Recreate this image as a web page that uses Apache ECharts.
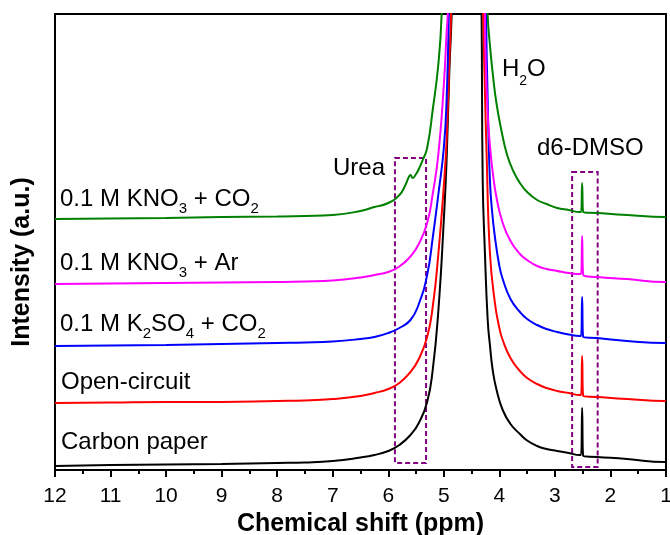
<!DOCTYPE html>
<html>
<head>
<meta charset="utf-8">
<script src="https://cdn.jsdelivr.net/npm/echarts@6/dist/echarts.min.js"></script>
<style>
html,body{margin:0;padding:0;background:#fff;}
#chart{width:670px;height:535px;}
</style>
</head>
<body>
<div id="chart"></div>
<script>
// ---- data (ppm, intensity in arbitrary units) ----
const xTickLabels = [12, 11, 10, 9, 8, 7, 6, 5, 4, 3, 2, 1];

const blackPpm = [12, 11, 10, 9, 8, 7.5, 7, 6.5, 6.25, 6.0, 5.8, 5.6, 5.45, 5.3, 5.2, 5.1, 5.0, 4.95, 4.9, 4.86, 4.84,
                  4.34, 4.32, 4.3, 4.26, 4.21, 4.17, 4.12, 4.05, 3.94, 3.8, 3.63, 3.5, 3.32, 3.15, 2.96, 2.75, 2.55, 2.53, 2.51, 2.49, 2.24, 1.70, 1.02, 1.0];
const blackVal = [4, 5, 5.5, 6, 7, 7.5, 9, 12.5, 15, 19, 25, 35, 47, 68, 100, 158, 250, 310, 400, 455, 520,
                  520, 455, 290, 217, 150, 125, 100, 80, 60, 46, 36, 29.5, 24, 21, 19, 17, 15, 15, 62, 14, 13, 11, 8, 8];

const redPpm = [12, 11, 10, 9, 8, 7.5, 7, 6.5, 6.25, 6.0, 5.8, 5.6, 5.45, 5.3, 5.2, 5.1, 5.0, 4.95, 4.9, 4.87, 4.85,
                4.30, 4.29, 4.26, 4.23, 4.17, 4.08, 4.0, 3.94, 3.8, 3.63, 3.5, 3.32, 3.15, 2.96, 2.75, 2.55, 2.53, 2.51, 2.49, 2.24, 1.70, 1.02, 1.0];
const redVal = [67, 67.5, 68, 68, 69, 69.5, 71, 74, 77, 81, 87, 98, 111, 133, 163, 215, 284, 330, 410, 455, 520,
                520, 455, 380, 317, 217, 167, 142, 130, 112, 99, 92, 86, 82, 79, 77, 75, 75, 114, 74, 73, 71, 69, 69];

const bluePpm = [12, 11, 10, 9, 8, 7.5, 7, 6.5, 6.25, 6.0, 5.8, 5.6, 5.45, 5.3, 5.2, 5.1, 5.0, 4.95, 4.91, 4.89,
                 4.25, 4.24, 4.21, 4.17, 4.13, 4.08, 4.0, 3.94, 3.8, 3.63, 3.5, 3.32, 3.15, 2.96, 2.75, 2.55, 2.53, 2.51, 2.49, 2.24, 1.70, 1.02, 1.0];
const blueVal = [124, 124.5, 125, 126, 127, 127.5, 128.5, 131, 133, 137, 142, 150, 166, 195, 232, 275, 322, 370, 455, 520,
                 520, 455, 370, 290, 258, 233, 204, 191, 171, 158, 151, 145, 141, 138, 135.5, 134, 134, 173, 133, 132, 129, 127, 127];

const magentaPpm = [12, 11, 10, 9, 8, 7.5, 7, 6.5, 6.25, 6.0, 5.8, 5.6, 5.45, 5.3, 5.2, 5.1, 5.0, 4.95, 4.93, 4.91,
                    4.27, 4.26, 4.25, 4.21, 4.17, 4.12, 4.05, 3.94, 3.8, 3.63, 3.5, 3.32, 3.15, 2.96, 2.75, 2.55, 2.53, 2.51, 2.49, 2.24, 1.70, 1.02, 1.0];
const magentaVal = [186, 186.5, 187, 187.5, 188, 188.5, 189.5, 192.5, 195, 198, 203.5, 213.5, 226, 247, 276, 315, 385, 437, 455, 520,
                    520, 455, 417, 356, 325, 298, 272, 247, 229, 216, 210, 204, 201, 199, 197, 196, 196, 234, 195, 193, 191, 188, 188];

const greenPpm = [12, 11, 10, 9, 8, 7.5, 7, 6.5, 6.25, 6.0, 5.8, 5.7, 5.63, 5.6, 5.56, 5.5, 5.45, 5.38, 5.3, 5.2, 5.1, 5.04, 5.02,
                  4.23, 4.21, 4.17, 4.12, 4.05, 3.95, 3.86, 3.75, 3.63, 3.5, 3.32, 3.15, 2.96, 2.75, 2.55, 2.53, 2.51, 2.49, 2.24, 1.70, 1.02, 1.0];
const greenVal = [251, 251.5, 252, 253, 253.5, 254, 255, 259, 263, 267, 275, 284, 293, 295, 292, 296, 301, 310, 322, 360, 405, 455, 520,
                  520, 455, 425, 397, 366, 336, 315, 299, 287, 278, 270, 266, 262, 260, 258, 258, 287, 258, 257, 255, 253, 253];

// dashed annotation boxes [ppmLeft, ppmRight, top, bottom]
const ureaBox = [5.88, 5.32, 312, 7];
const dmsoBox = [2.69, 2.23, 298, 3];

const seriesNames = ['Carbon paper', 'Open-circuit', 'K2SO4 + CO2', 'KNO3 + Ar', 'KNO3 + CO2'];
const seriesColors = ['#000000', '#ff0000', '#0000ff', '#ff00ff', '#008000'];

function pairs(xs, ys) { return xs.map((x, i) => [x, ys[i]]); }

const chart = echarts.init(document.getElementById('chart'), null, {renderer: 'canvas'});
const FONT = '"Liberation Sans", Arial, Helvetica, sans-serif';
const PURPLE = '#800080';

const dataSets = [
  pairs(blackPpm, blackVal),
  pairs(redPpm, redVal),
  pairs(bluePpm, blueVal),
  pairs(magentaPpm, magentaVal),
  pairs(greenPpm, greenVal)
];

const series = dataSets.map((d, i) => ({
  name: seriesNames[i],
  type: 'line',
  data: d,
  showSymbol: false,
  smooth: 0.5,
  clip: true,
  lineStyle: {color: seriesColors[i], width: 2},
  itemStyle: {color: seriesColors[i]},
  z: 3 + i,
  animation: false
}));

series.push({
  type: 'line',
  data: [],
  markArea: {
    silent: true,
    itemStyle: {color: 'rgba(0,0,0,0)', borderColor: PURPLE, borderWidth: 2, borderType: [5, 3]},
    data: [
      [{coord: [ureaBox[0], ureaBox[2]]}, {coord: [ureaBox[1], ureaBox[3]]}],
      [{coord: [dmsoBox[0], dmsoBox[2]]}, {coord: [dmsoBox[1], dmsoBox[3]]}]
    ]
  },
  z: 10,
  animation: false
});

const mainRich = {
  n: {fontSize: 24, fontFamily: FONT, color: '#000', lineHeight: 40},
  s: {fontSize: 15, fontFamily: FONT, color: '#000', lineHeight: 40, padding: [19, 0, 0, 0]}
};
const purpleRich = {
  n: {fontSize: 24, fontFamily: FONT, color: PURPLE, lineHeight: 40},
  s: {fontSize: 14, fontFamily: FONT, color: PURPLE, lineHeight: 40, padding: [23, 0, 0, 0]}
};

// y = cap-centre of the label line
function label(x, y, text, rich) {
  return {
    type: 'text', left: x, top: y - 15, z: 20,
    style: {text: text, rich: rich, fontFamily: FONT}
  };
}

const option = {
  backgroundColor: '#fff',
  animation: false,
  grid: {left: 55, right: 4, top: 14, bottom: 65, show: true, borderColor: '#000', borderWidth: 2,
    backgroundColor: 'transparent', containLabel: false, outerBoundsMode: 'none'},
  xAxis: {
    type: 'value', min: 1, max: 12, interval: 1, inverse: true,
    name: 'Chemical shift (ppm)', nameLocation: 'middle', nameGap: 38,
    nameTextStyle: {fontSize: 25, fontWeight: 'bold', fontFamily: FONT, color: '#000'},
    axisLine: {show: true, onZero: false, lineStyle: {color: '#000', width: 2}},
    axisTick: {show: true, inside: false, length: 7, lineStyle: {color: '#000', width: 2}},
    minorTick: {show: true, splitNumber: 2, length: 4, lineStyle: {color: '#000', width: 2}},
    axisLabel: {fontSize: 21, fontFamily: FONT, color: '#000', margin: 16,
      formatter: v => xTickLabels.includes(v) ? String(v) : ''},
    splitLine: {show: false}
  },
  yAxis: {
    type: 'value', min: 0, max: 456,
    name: 'Intensity (a.u.)', nameLocation: 'middle', nameGap: 20,
    nameTextStyle: {fontSize: 25, fontWeight: 'bold', fontFamily: FONT, color: '#000', padding: [0, 40, 0, 0]},
    axisLine: {show: true, lineStyle: {color: '#000', width: 2}},
    axisTick: {show: false}, axisLabel: {show: false}, splitLine: {show: false}
  },
  series: series,
  graphic: [
    label(60, 197, '{n|0.1 M KNO}{s|3}{n| + CO}{s|2}', mainRich),
    label(60, 261.5, '{n|0.1 M KNO}{s|3}{n| + Ar}', mainRich),
    label(60, 322, '{n|0.1 M K}{s|2}{n|SO}{s|4}{n| + CO}{s|2}', mainRich),
    label(61, 385, '{n|Open-circuit}', mainRich),
    label(61, 445, '{n|Carbon paper}', mainRich),
    label(333, 171, '{n|Urea}', purpleRich),
    label(502, 66, '{n|H}{s|2}{n|O}', purpleRich),
    label(537, 151, '{n|d6-DMSO}', purpleRich)
  ]
};
chart.setOption(option);
</script>
</body>
</html>
